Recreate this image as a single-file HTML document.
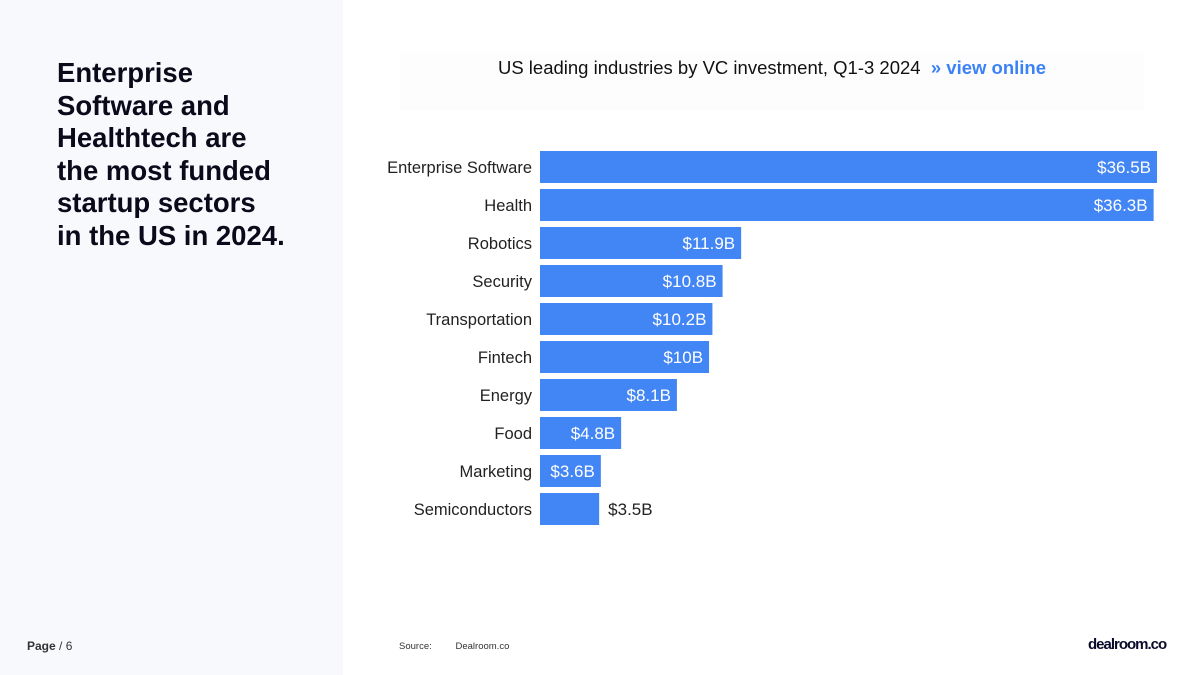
<!DOCTYPE html>
<html><head><meta charset="utf-8"><style>
body{margin:0;width:1200px;height:675px;position:relative;background:#fff;font-family:"Liberation Sans",sans-serif;overflow:hidden}
#left{position:absolute;left:0;top:0;width:343px;height:675px;background:#f7f9fd}
#headline{position:absolute;left:57px;top:57px;font-size:27.5px;font-weight:bold;line-height:32.5px;color:#0a0a1a}
#page{position:absolute;left:27px;top:639px;font-size:12px;color:#333}
#titlebox{position:absolute;left:400px;top:52px;width:744px;height:58px;background:#fdfdfe}
#title{position:absolute;left:400px;width:744px;top:57px;font-size:18.5px;color:#111;text-align:center;padding-left:0;box-sizing:border-box}
#title span{color:#3b82f6;font-weight:bold}
#source{position:absolute;left:399px;top:641px;font-size:9.5px;color:#333}
#logo{position:absolute;left:1088px;top:636px;font-size:15px;font-weight:bold;color:#0a0a2a;letter-spacing:-1px}
</style></head><body>
<div id="left"></div>
<div id="headline">Enterprise<br>Software and<br>Healthtech are<br>the most funded<br>startup sectors<br>in the US in 2024.</div>
<div id="page"><b>Page</b> / 6</div>
<div id="titlebox"></div>
<div id="title">US leading industries by VC investment, Q1-3 2024 &nbsp;<span>» view online</span></div>
<svg id="chart" width="1200" height="675" style="position:absolute;left:0;top:0"></svg>
<div id="source">Source:&nbsp;&nbsp;&nbsp;&nbsp;&nbsp;&nbsp;&nbsp;&nbsp;&nbsp;Dealroom.co</div>
<div id="logo">dealroom.co</div>
<script>
const categories=["Enterprise Software","Health","Robotics","Security","Transportation","Fintech","Energy","Food","Marketing","Semiconductors"];
const values=[36.5,36.3,11.9,10.8,10.2,10,8.1,4.8,3.6,3.5];
const valueLabels=["$36.5B","$36.3B","$11.9B","$10.8B","$10.2B","$10B","$8.1B","$4.8B","$3.6B","$3.5B"];
const svg=document.getElementById('chart');
const NS='http://www.w3.org/2000/svg';
const x0=540,pxPer=617/36.5;
function xs(v){return v*pxPer;}
function ys(i){return 151+i*38;}
categories.forEach((c,i)=>{
  const y=ys(i),w=xs(values[i]);
  const r=document.createElementNS(NS,'rect');
  r.setAttribute('x',x0);r.setAttribute('y',y);r.setAttribute('width',w);r.setAttribute('height',32);r.setAttribute('fill','#4285f4');
  
  
  svg.appendChild(r);
  const l=document.createElementNS(NS,'text');
  l.setAttribute('x',532);l.setAttribute('y',y+22);l.setAttribute('text-anchor','end');l.setAttribute('font-size','16.5');l.setAttribute('fill','#222');
  l.textContent=c;
  
  
  svg.appendChild(l);
  const v=document.createElementNS(NS,'text');
  const inside=w>=60;
  v.setAttribute('x',inside?x0+w-6:x0+w+9);v.setAttribute('y',y+22);
  v.setAttribute('text-anchor',inside?'end':'start');v.setAttribute('font-size','17');
  v.setAttribute('fill',inside?'#fff':'#222');
  v.textContent=valueLabels[i];
  
  
  svg.appendChild(v);
});
</script>
</body></html>
